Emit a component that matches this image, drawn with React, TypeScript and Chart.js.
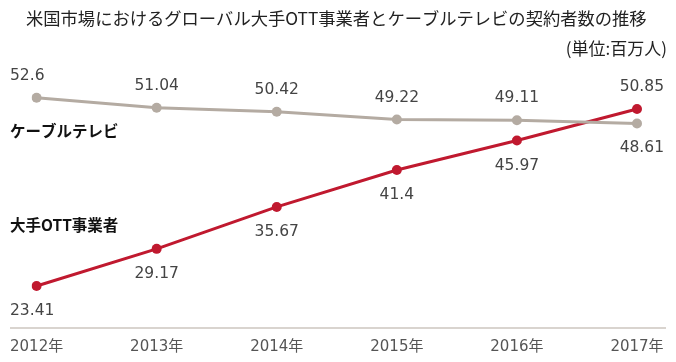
import React, { useEffect, useRef } from "react";
import { Chart, registerables } from "chart.js";

Chart.register(...registerables);

const title = "米国市場におけるグローバル大手OTT事業者とケーブルテレビの契約者数の推移";
const unitLabel = "(単位:百万人)";
const years = ["2012年", "2013年", "2014年", "2015年", "2016年", "2017年"];
const cableName = "ケーブルテレビ";
const ottName = "大手OTT事業者";
const cableValues = [52.6, 51.04, 50.42, 49.22, 49.11, 48.61];
const ottValues = [23.41, 29.17, 35.67, 41.4, 45.97, 50.85];
const cableLabelPos = ["above", "above", "above", "above", "above", "below"];
const ottLabelPos = ["below", "below", "below", "below", "below", "above"];

const CABLE_COLOR = "#b4aba2";
const OTT_COLOR = "#c0192f";
const TEXT_COLOR = "#444444";
const NUM_FONT = "15.5px 'DejaVu Sans', 'Noto Sans CJK JP', sans-serif";
const JP_FONT = "'Noto Sans CJK JP', sans-serif";
const EDGE_LEFT = 10;
const EDGE_RIGHT = 664;

const overlayPlugin = {
  id: "overlay",
  afterDatasetsDraw(chart: any) {
    const ctx = chart.ctx;
    const area = chart.chartArea;
    ctx.save();
    // baseline
    ctx.strokeStyle = "#d9d4cf";
    ctx.lineWidth = 2;
    ctx.beginPath();
    ctx.moveTo(EDGE_LEFT, area.bottom);
    ctx.lineTo(666, area.bottom);
    ctx.stroke();

    // title + unit
    ctx.fillStyle = "#222222";
    ctx.textBaseline = "middle";
    ctx.textAlign = "left";
    ctx.font = `17.3px ${JP_FONT}`;
    ctx.fillText(title, 26, 18);
    ctx.font = `17px ${JP_FONT}`;
    ctx.textAlign = "right";
    ctx.fillText(unitLabel, 667, 49);

    // value labels: first column flush left, last column flush right, others centred
    const positions = [cableLabelPos, ottLabelPos];
    ctx.font = NUM_FONT;
    ctx.fillStyle = TEXT_COLOR;
    ctx.textAlign = "left";
    chart.data.datasets.forEach((ds: any, di: number) => {
      const meta = chart.getDatasetMeta(di);
      const n = meta.data.length;
      meta.data.forEach((pt: any, i: number) => {
        const text = String(ds.data[i]);
        const w = ctx.measureText(text).width;
        let x = pt.x - w / 2;
        if (i === 0) x = EDGE_LEFT;
        else if (i === n - 1) x = EDGE_RIGHT - w;
        const pos = positions[di][i];
        const y = pos === "above" ? pt.y - 22 : pt.y + 25;
        ctx.fillText(text, x, y);
      });
    });

    // series names
    ctx.textAlign = "left";
    ctx.fillStyle = "#111111";
    ctx.font = `bold 15.5px ${JP_FONT}`;
    const yScale = chart.scales.y;
    ctx.fillText(cableName, EDGE_LEFT, yScale.getPixelForValue(cableValues[0]) + 33);
    ctx.fillText(ottName, EDGE_LEFT, yScale.getPixelForValue(ottValues[0]) - 61);
    ctx.restore();
  },
};

export default function App() {
  const ref = useRef<HTMLCanvasElement>(null);
  useEffect(() => {
    if (!ref.current) return;
    const chart = new Chart(ref.current, {
      type: "line",
      data: {
        labels: years,
        datasets: [
          {
            label: cableName,
            data: cableValues,
            borderColor: CABLE_COLOR,
            backgroundColor: CABLE_COLOR,
            borderWidth: 3,
            pointRadius: 5,
            pointBorderWidth: 0,
            tension: 0,
          },
          {
            label: ottName,
            data: ottValues,
            borderColor: OTT_COLOR,
            backgroundColor: OTT_COLOR,
            borderWidth: 3,
            pointRadius: 5,
            pointBorderWidth: 0,
            tension: 0,
          },
        ],
      },
      options: {
        responsive: false,
        animation: false,
        layout: { padding: { left: 35, right: 39, top: 50, bottom: 0 } },
        plugins: {
          legend: { display: false },
          tooltip: { enabled: false },
          title: { display: false },
        },
        scales: {
          x: {
            offset: false,
            grid: { display: false, drawTicks: false },
            border: { display: false },
            ticks: {
              color: "#555555",
              font: { family: "'DejaVu Sans', 'Noto Sans CJK JP', sans-serif", size: 15 },
              padding: 10,
              maxRotation: 0,
              autoSkip: false,
            },
            afterFit(scale: any) {
              scale.height = 34;
            },
          },
          y: {
            display: false,
            min: 16.9,
            max: 60,
          },
        },
      },
      plugins: [overlayPlugin],
    });
    return () => chart.destroy();
  }, []);
  return (
    <div style={{ position: "fixed", left: 0, top: 0, width: 676, height: 362, background: "#fff" }}>
      <canvas ref={ref} width={676} height={362} />
    </div>
  );
}
